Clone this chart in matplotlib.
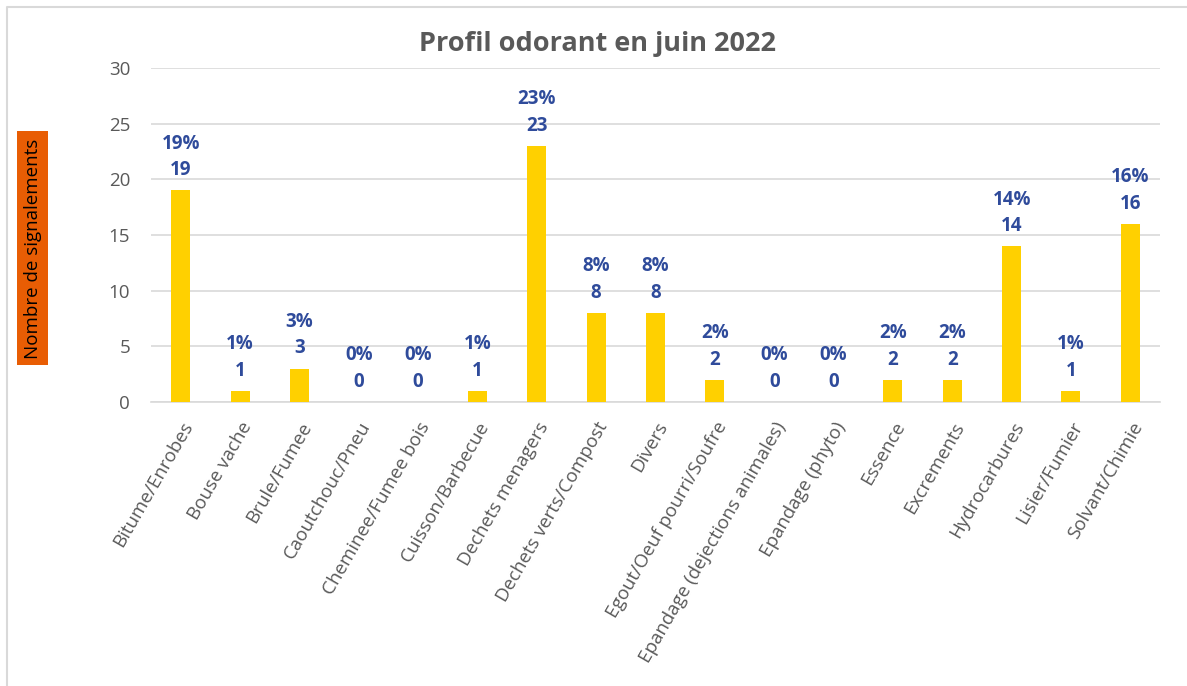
import numpy as np
import matplotlib.pyplot as plt
from matplotlib.patches import Rectangle
from matplotlib.lines import Line2D

# Données du graphique
categories = ['Bitume/Enrobes', 'Bouse vache', 'Brule/Fumee', 'Caoutchouc/Pneu',
              'Cheminee/Fumee bois', 'Cuisson/Barbecue', 'Dechets menagers',
              'Dechets verts/Compost', 'Divers', 'Egout/Oeuf pourri/Soufre',
              'Epandage (dejections animales)', 'Epandage (phyto)', 'Essence',
              'Excrements', 'Hydrocarbures', 'Lisier/Fumier', 'Solvant/Chimie']
signalements = [19, 1, 3, 0, 0, 1, 23, 8, 8, 2, 0, 0, 2, 2, 14, 1, 16]
y_ticks = [0, 5, 10, 15, 20, 25, 30]

plt.rcParams['font.family'] = ['Open Sans', 'DejaVu Sans']

W, H = 1187, 686
fig = plt.figure(figsize=(W / 100, H / 100), dpi=100)
ax = fig.add_axes([151 / W, 1 - 402 / H, (1160 - 151) / W, (402 - 68) / H])

gris = '#595959'
bleu = '#2F4B9B'

x = np.arange(len(categories))
ax.bar(x, signalements, width=0.32, color='#FFD000', zorder=3)

total = sum(signalements)
for xi, v in zip(x, signalements):
    pct = round(100 * v / total)
    ax.annotate(str(v), (xi, v), xytext=(0, 14.5), textcoords='offset points',
                ha='center', va='center', fontsize=13.5, fontweight='bold', color=bleu)
    ax.annotate(f'{pct}%', (xi, v), xytext=(0, 33.5), textcoords='offset points',
                ha='center', va='center', fontsize=13.5, fontweight='bold', color=bleu)

ax.set_xlim(-0.5, len(categories) - 0.5)
ax.set_ylim(0, 30)
ax.set_yticks(y_ticks)
ax.set_xticks(x)
ax.set_xticklabels(categories, rotation=60, ha='right', rotation_mode='anchor')
ax.grid(axis='y', color='#D9D9D9', linewidth=1.2, zorder=0)
for s in ['top', 'right', 'left']:
    ax.spines[s].set_visible(False)
ax.spines['bottom'].set_color('#D9D9D9')
ax.spines['bottom'].set_linewidth(1.2)
ax.tick_params(axis='both', length=0, colors=gris, labelsize=13.5)
ax.tick_params(axis='y', pad=15)
ax.tick_params(axis='x', pad=12)

fig.text(598 / W, 1 - 44 / H, 'Profil odorant en juin 2022', ha='center', va='center',
         fontsize=19.5, fontweight='bold', color=gris)

# Titre de l'axe Y dans un cadre orange
fig.patches.append(Rectangle((17 / W, 1 - 365 / H), 31 / W, 234 / H,
                             transform=fig.transFigure, facecolor='#E85D04',
                             edgecolor='none'))
fig.text(33 / W, 1 - 249 / H, 'Nombre de signalements', rotation=90,
         ha='center', va='center', fontsize=13.5, color='black')

# Cadre autour du graphique (bords gauche et haut visibles)
fig.lines.append(Line2D([7 / W, 7 / W, 1], [0, 1 - 7 / H, 1 - 7 / H],
                        transform=fig.transFigure, color='#D9D9D9', linewidth=1.5))

fig.savefig('out.png', dpi=100)
